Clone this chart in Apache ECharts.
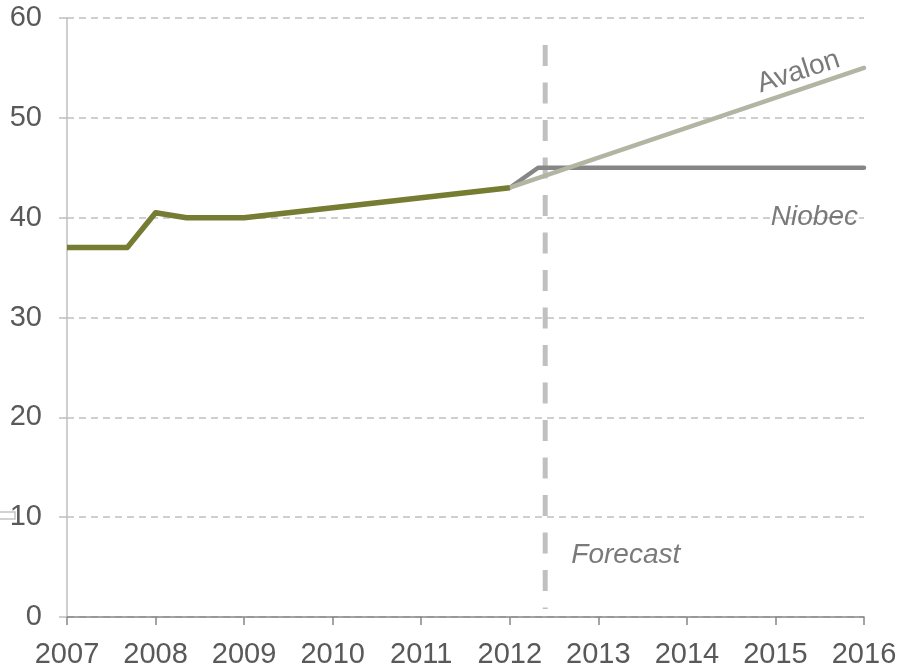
<!DOCTYPE html>
<html>
<head>
<meta charset="utf-8">
<script src="https://cdn.jsdelivr.net/npm/echarts@6/dist/echarts.min.js"></script>
<style>
  html, body { margin: 0; padding: 0; background: #fff; }
  #chart { width: 897px; height: 668px; }
</style>
</head>
<body>
<div id="chart"></div>
<script>
// historical price (green), then two forecast paths
const historyYears = [2007, 2007.68, 2008, 2008.35, 2009, 2010, 2011, 2012]
const historyValues = [37, 37, 40.5, 40, 40, 41, 42, 43]

const niobecYears = [2012, 2012.32, 2016]
const niobecValues = [43, 45, 45]

const avalonYears = [2012, 2016]
const avalonValues = [43, 55]

// vertical "Forecast" marker
const forecastYear = 2012.4
const forecastSpan = [57.3, 0.8]

const yearTicks = [2007, 2008, 2009, 2010, 2011, 2012, 2013, 2014, 2015, 2016]

const zip = (xs, ys) => xs.map((x, i) => [x, ys[i]])

const textColor = '#595959'
const font = 'Liberation Sans, Arial, sans-serif'

const chart = echarts.init(document.getElementById('chart'))
chart.setOption({
  backgroundColor: '#ffffff',
  animation: false,
  grid: { left: 67, right: 33, top: 18, bottom: 51, outerBoundsMode: 'none', containLabel: false },
  xAxis: {
    type: 'value',
    min: 2007,
    max: 2016,
    interval: 1,
    axisLine: { lineStyle: { color: '#868686', width: 1.5 } },
    axisTick: { show: true, length: 8, lineStyle: { color: '#868686', width: 1.5 } },
    splitLine: { show: false },
    axisLabel: {
      margin: 23,
      color: textColor,
      fontSize: 29,
      fontFamily: font,
      formatter: v => yearTicks.includes(v) ? String(v) : ''
    }
  },
  yAxis: {
    type: 'value',
    min: 0,
    max: 60,
    interval: 10,
    axisLine: { show: true, lineStyle: { color: '#bfbfbf', width: 1.5 } },
    axisTick: { show: true, length: 8, inside: false, lineStyle: { color: '#bfbfbf', width: 1.5 } },
    splitLine: { lineStyle: { color: '#c0c0c0', type: [7, 5], width: 1.5 } },
    axisLabel: {
      margin: 25,
      color: textColor,
      fontSize: 29,
      fontFamily: font
    }
  },
  graphic: [
    {
      type: 'rect',
      shape: { x: -2, y: 512, width: 17, height: 7 },
      style: { fill: '#fff', stroke: '#c4c4c4', lineWidth: 1.5 }
    }
  ],
  series: [
    {
      name: 'Forecast',
      type: 'line',
      data: forecastSpan.map(v => [forecastYear, v]),
      symbol: 'none',
      lineStyle: { color: '#c0c0c0', width: 5, type: [21, 16.5], cap: 'butt' },
      z: 1
    },
    {
      name: 'Niobec',
      type: 'line',
      data: zip(niobecYears, niobecValues),
      symbol: 'none',
      lineStyle: { color: '#868686', width: 4.5, cap: 'round', join: 'round' },
      z: 3
    },
    {
      name: 'Avalon',
      type: 'line',
      data: zip(avalonYears, avalonValues),
      symbol: 'none',
      lineStyle: { color: '#b3b5a2', width: 4.5, cap: 'round' },
      z: 4
    },
    {
      name: 'History',
      type: 'line',
      data: zip(historyYears, historyValues),
      symbol: 'none',
      lineStyle: { color: '#767c32', width: 5.5, join: 'round' },
      z: 5
    },
    {
      // annotation labels anchored in data space
      type: 'scatter',
      symbolSize: 0,
      silent: true,
      z: 6,
      label: {
        show: true,
        position: 'inside',
        color: textColor,
        fontSize: 28,
        fontFamily: font,
        formatter: p => p.name
      },
      data: [
        { name: 'Avalon', value: [2015.26, 54.6], label: { rotate: 18 } },
        { name: 'Niobec', value: [2015.44, 40.05], label: { fontStyle: 'italic' } },
        { name: 'Forecast', value: [2013.31, 6.2], label: { fontStyle: 'italic' } }
      ]
    }
  ]
})
</script>
</body>
</html>
